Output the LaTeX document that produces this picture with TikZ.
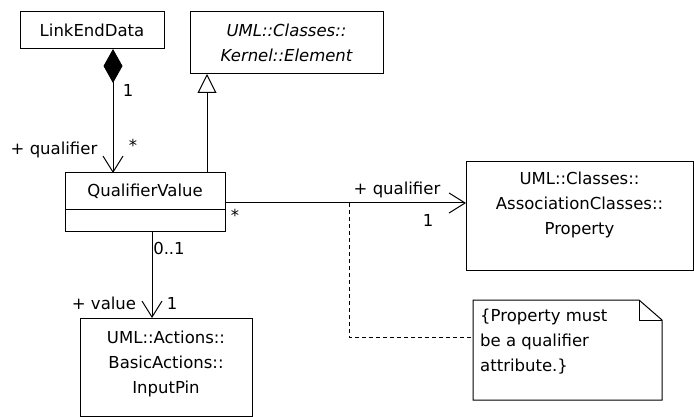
\documentclass[tikz,border=0pt]{standalone}
\usepackage{fontspec}
\setmainfont{DejaVu Sans}
\usepackage{tikz}
\usetikzlibrary{arrows.meta,positioning,calc}
\newcommand{\umlfont}{\fontsize{16.5}{25}\selectfont}
\tikzset{
    % Plain black boxes, sharp corners
    classbox/.style={
        rectangle,
        draw=black,
        fill=white,
        line width=1pt,
        inner sep=0pt,
        outer sep=0pt,
        anchor=north west,
        align=center,
        font=\umlfont
    },
    notebox/.style={
        rectangle,
        inner sep=0pt,
        outer sep=0pt,
        anchor=north west,
        minimum width=189pt,
        minimum height=100pt
    },
    boxtext/.style={
        inner sep=0pt,
        align=center,
        font=\umlfont
    },
    lbl/.style={
        inner sep=0pt,
        font=\umlfont
    },
    assoc/.style={
        line width=1pt,
        -{Straight Barb[length=16pt,width=20pt]}
    },
    comp/.style={
        line width=1pt,
        {Diamond[length=34pt,width=19pt]}-{Straight Barb[length=16pt,width=20pt]}
    },
    gen/.style={
        line width=1pt,
        -{Triangle[open,length=19pt,width=19pt,fill=white]}
    },
    anchorline/.style={
        line width=1pt,
        dash pattern=on 4pt off 3pt
    }
}
\begin{document}
\begin{tikzpicture}[x=1pt,y=-1pt]
    \useasboundingbox (0,0) rectangle (694,417);

    % Classes
    \node[classbox, minimum width=144pt, minimum height=37pt] (link) at (20,12) {LinkEndData};
    \node[classbox, minimum width=193pt, minimum height=62pt, font=\umlfont\itshape] (elem) at (190,12) {UML::Classes::\\Kernel::Element};
    \node[classbox, minimum width=160pt, minimum height=37pt] (qv) at (65,173) {QualifierValue};
    \node[classbox, minimum width=160pt, minimum height=21pt, below=0pt of qv] (qvattr) {};
    \node[classbox, minimum width=227pt, minimum height=108pt] (prop) at (466,162) {};
    \node[boxtext, below=10pt of prop.north] (proptext) {UML::Classes::\\AssociationClasses::\\Property};
    \node[classbox, minimum width=172pt, minimum height=98pt] (pin) at (80,318) {};
    \node[boxtext, below=13pt of pin.north] (pintext) {UML::Actions::\\BasicActions::\\InputPin};

    % Note
    \node[notebox] (note) at (473,300) {};
    \draw[line width=1pt] (note.north west) -- ([xshift=-23pt]note.north east)
        -- ([yshift=-20pt]note.north east) -- (note.south east) -- (note.south west) -- cycle;
    \draw[line width=1pt] ([xshift=-23pt]note.north east) -- ([xshift=-23pt,yshift=-20pt]note.north east)
        -- ([yshift=-20pt]note.north east);
    \node[boxtext, align=left, anchor=north west] (notetext) at ([xshift=7pt,yshift=-9pt]note.north west)
        {\{Property must\\be a qualifier\\attribute.\}};

    % Connectors
    \draw[comp] ([xshift=93pt]link.south west) -- ([xshift=93pt]link.south west |- qv.north);
    \draw[gen] ([xshift=-18pt]qv.north east) -- ([xshift=-18pt]qv.north east |- elem.south);
    \draw[assoc] ([yshift=7pt]qv.south east) -- ([yshift=7pt]qv.south east -| prop.west);
    \draw[assoc] ([xshift=87pt]qvattr.south west) -- ([xshift=87pt]qvattr.south west |- pin.north);
    \coordinate (ajoin) at (349,203);
    \draw[anchorline] (ajoin) |- ([yshift=13pt]note.west);

    % End labels
    \node[lbl] (compone) at (128,90) {1};
    \node[lbl] (qualrole) at (54,150) {+ qualifier};
    \node[lbl] (qualmany) at (133,145) {*};
    \node[lbl] (propmany) at (235,215) {*};
    \node[lbl] (proprole) at (397,190) {+ qualifier};
    \node[lbl] (propone) at (428,220) {1};
    \node[lbl] (valopt) at (169,248) {0..1};
    \node[lbl] (valrole) at (104,303) {+ value};
    \node[lbl] (valone) at (172,303) {1};
\end{tikzpicture}
\end{document}
